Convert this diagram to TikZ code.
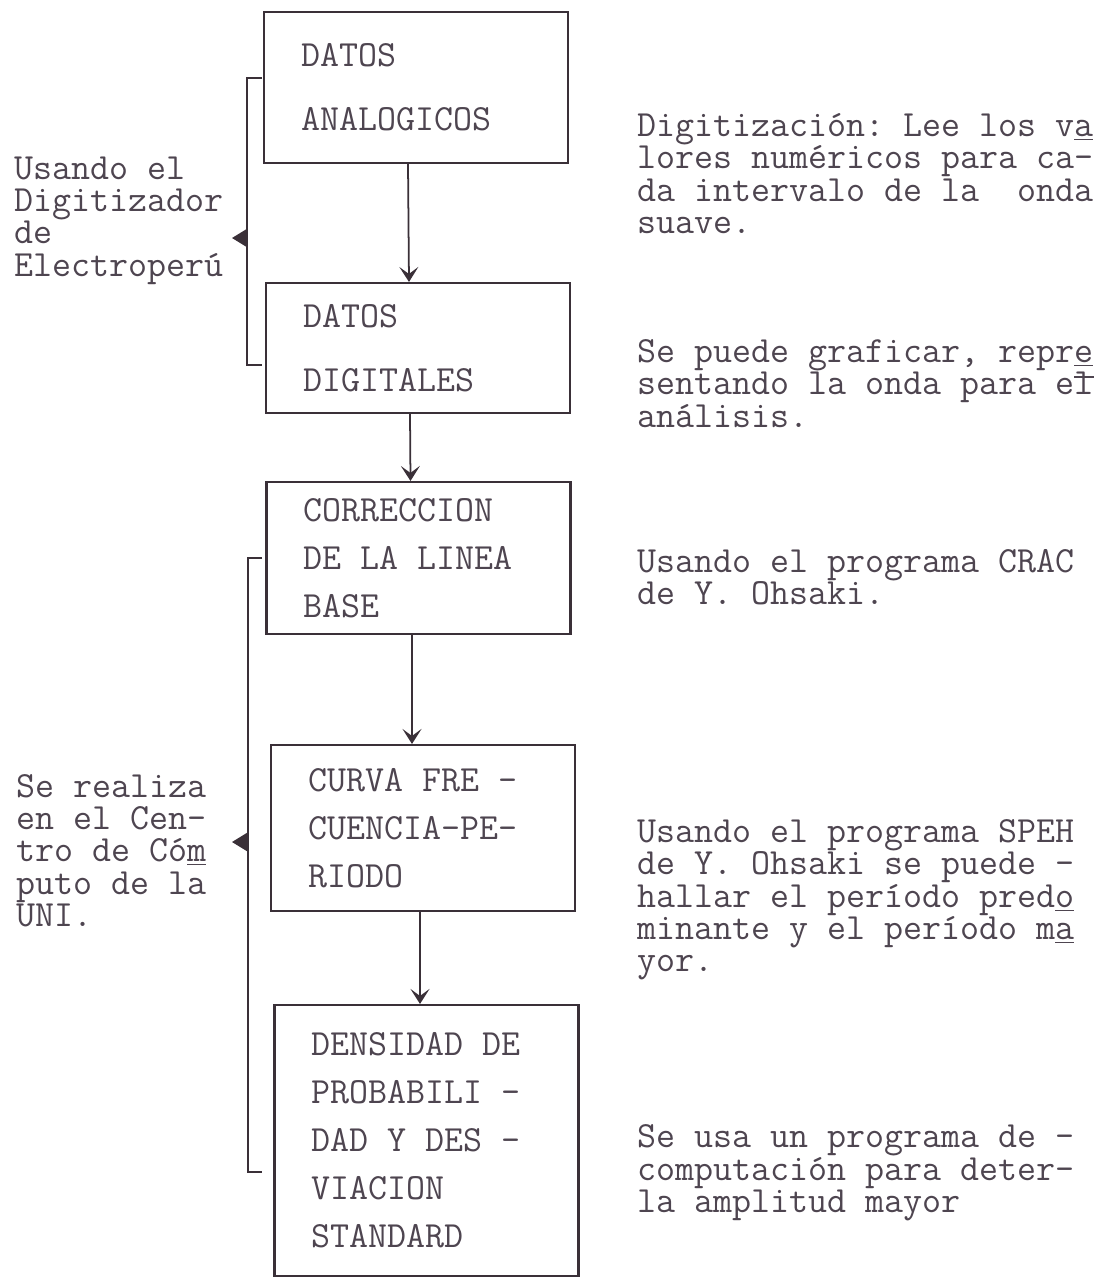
\documentclass[tikz,border=0pt]{standalone}
\usepackage{fontspec}
\usetikzlibrary{arrows.meta}
\setlength{\lineskiplimit}{-20pt}
\frenchspacing
\definecolor{ink}{HTML}{3A3038}
\definecolor{type}{HTML}{4E4550}
\newcommand{\ub}[1]{\underline{#1}}
\newcommand{\topbar}[1]{\rlap{\rule[0.45em]{0.52em}{0.05em}}#1}
\tikzset{
  stepbox/.style={draw=ink, line width=1.2pt, rectangle, text=type, align=flush left,
    text width=4.6cm, inner xsep=0.74cm, minimum width=6.08cm},
  wide/.style={font=\ttfamily\fontsize{21}{36.4}\selectfont},
  close/.style={font=\ttfamily\fontsize{21}{27.3}\selectfont},
  note/.style={text=type, align=left, inner sep=0pt, anchor=west,
    font=\ttfamily\fontsize{21}{18.4}\selectfont},
  flow/.style={draw=ink, line width=1pt, -{Stealth[length=3mm,width=3.8mm,inset=1.4mm]}},
  brack/.style={draw=ink, line width=0.9pt},
  pointer/.style={draw=ink, line width=0.9pt, -{Triangle[length=3mm,width=3.6mm]}}
}
\begin{document}
\begin{tikzpicture}
  \useasboundingbox (0,0) rectangle (22.2,-25.56);
  \node[stepbox, wide, minimum height=3.02cm] (analog) at (8.32,-1.75) {DATOS\\ANALOGICOS};
  \node[stepbox, wide, minimum height=2.60cm] (digit) at (8.36,-6.96) {DATOS\\DIGITALES};
  \node[stepbox, close, minimum height=3.04cm] (correc) at (8.37,-11.16) {CORRECCION\\DE LA LINEA\\BASE};
  \node[stepbox, close, minimum height=3.32cm] (curva) at (8.46,-16.56) {CURVA FRE -\\CUENCIA-PE-\\RIODO};
  \node[stepbox, close, minimum height=5.42cm] (densid) at (8.53,-22.81) {DENSIDAD DE\\PROBABILI -\\DAD Y DES -\\VIACION\\STANDARD};
  % flow between the boxes
  \draw[flow] ([xshift=-0.16cm]analog.south) -- ([xshift=-0.18cm]digit.north);
  \draw[flow] ([xshift=-0.16cm]digit.south) -- ([xshift=-0.16cm]correc.north);
  \draw[flow] ([xshift=-0.13cm]correc.south) -- ([xshift=-0.22cm]curva.north);
  \draw[flow] ([xshift=-0.06cm]curva.south) -- ([xshift=-0.13cm]densid.north);
  % brackets on the left
  \coordinate (br1top) at (4.94,-1.56);
  \coordinate (br1bot) at (4.94,-7.30);
  \coordinate (br1mid) at (4.94,-4.76);
  \coordinate (br1tip) at (4.64,-4.76);
  \draw[brack] ([xshift=0.30cm]br1top) -- (br1top) -- (br1bot) -- ([xshift=0.30cm]br1bot);
  \draw[pointer] (br1mid) -- (br1tip);
  \coordinate (br2top) at (4.96,-11.16);
  \coordinate (br2bot) at (4.96,-23.44);
  \coordinate (br2mid) at (4.96,-16.84);
  \coordinate (br2tip) at (4.64,-16.84);
  \draw[brack] ([xshift=0.28cm]br2top) -- (br2top) -- (br2bot) -- ([xshift=0.28cm]br2bot);
  \draw[pointer] (br2mid) -- (br2tip);
  % side notes
  \node[note] (digitizador) at (0.28,-4.41) {Usando el\\Digitizador\\de\\Electroperú};
  \node[note] (centro) at (0.32,-17.01) {Se realiza\\en el Cen-\\tro de Có\ub{m}\\puto de la\\UNI.};
  \node[note] (notedig) at (12.74,-3.47) {Digitización: Lee los v\ub{a}\\lores numéricos para ca-\\da intervalo de la\ \ onda\\suave.};
  \node[note] (notegraf) at (12.74,-7.67) {Se puede graficar, repr\ub{e}\\sentando la onda para e\topbar{l}\\análisis.};
  \node[note] (notecrac) at (12.74,-11.54) {Usando el programa CRAC\\de Y. Ohsaki.};
  \node[note] (notespeh) at (12.74,-18.00) {Usando el programa SPEH\\de Y. Ohsaki se puede -\\hallar el período pred\ub{o}\\minante y el período m\ub{a}\\yor.};
  \node[note] (noteprog) at (12.74,-23.46) {Se usa un programa de -\\computación para deter-\\la amplitud mayor};
\end{tikzpicture}
\end{document}
